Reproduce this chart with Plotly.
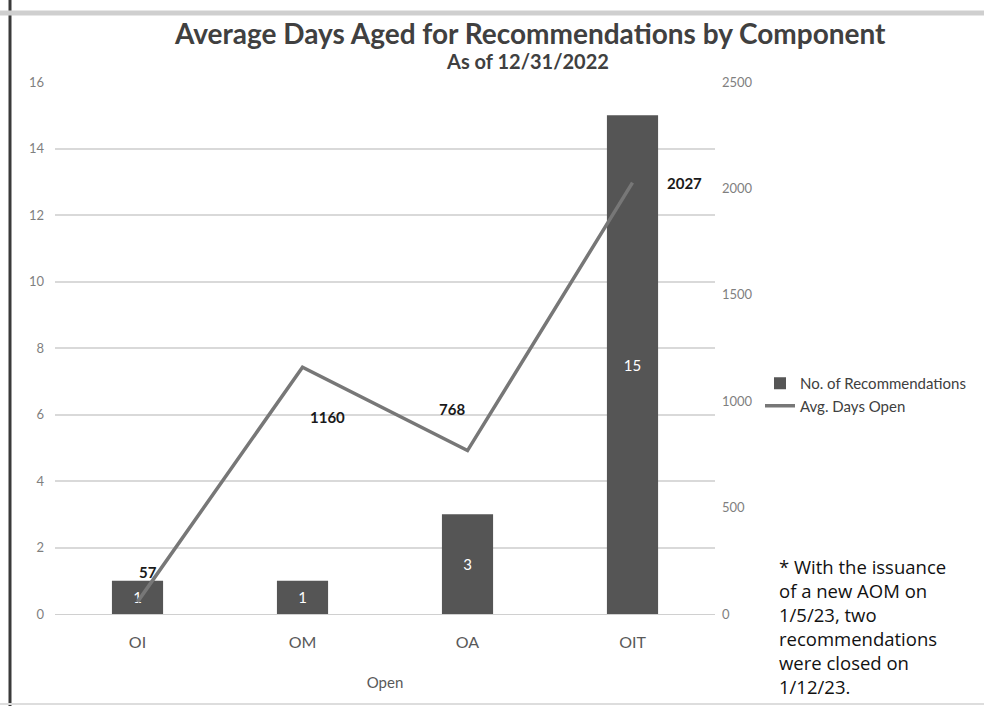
import plotly.graph_objects as go

# Chart data
components = ["OI", "OM", "OA", "OIT"]
num_recommendations = [1, 1, 3, 15]
avg_days_open = [57, 1160, 768, 2027]

footnote_lines = [
    "* With the issuance",
    "of a new AOM on",
    "1/5/23, two",
    "recommendations",
    "were closed on",
    "1/12/23.",
]

# Offsets (px) for the line's value labels
label_dx = [10, 25, -16, 52]
label_dy = [30, -50, 42, 0]

W, H = 984, 706
ML, MR, MT, MB = 55, 269, 82, 92
PW, PH = W - ML - MR, H - MT - MB

FONT = "Lato"
GREY_TXT = "#595959"

def px_x(x):
    return (x - ML) / PW

def px_y(y):
    return (H - MB - y) / PH

fig = go.Figure()

fig.add_trace(go.Bar(
    x=components, y=num_recommendations, name="No. of Recommendations",
    marker=dict(color="#555555", line=dict(width=0)),
    width=0.31,
    text=[str(v) for v in num_recommendations],
    textposition="inside", insidetextanchor="middle",
    textfont=dict(color="white", size=15, family=FONT),
    yaxis="y",
))

fig.add_trace(go.Scatter(
    x=components, y=avg_days_open, name="Avg. Days Open",
    mode="lines", line=dict(color="#777777", width=3.5),
    yaxis="y2",
))

for c, v, dx, dy in zip(components, avg_days_open, label_dx, label_dy):
    fig.add_annotation(
        x=c, y=v, xref="x", yref="y2", text=f"<b>{v}</b>", showarrow=False,
        xshift=dx, yshift=dy, font=dict(size=15, color="#1a1a1a", family=FONT),
    )

# Title and subtitle
fig.add_annotation(x=px_x(530), y=px_y(33), xref="paper", yref="paper",
                   text="<b>Average Days Aged for Recommendations by Component</b>",
                   showarrow=False, xanchor="center", yanchor="middle",
                   font=dict(size=28, color="#404040", family=FONT))
fig.add_annotation(x=px_x(527), y=px_y(61), xref="paper", yref="paper",
                   text="<b>As of 12/31/2022</b>",
                   showarrow=False, xanchor="center", yanchor="middle",
                   font=dict(size=20, color="#404040", family=FONT))

# Footnote beside the chart
fig.add_annotation(x=px_x(777), y=px_y(552), xref="paper", yref="paper",
                   text="<br>".join(footnote_lines),
                   showarrow=False, xanchor="left", yanchor="top", align="left",
                   font=dict(size=18.5, color="#111111", family="Open Sans"))

# Frame lines around the figure
fig.add_shape(type="line", xref="paper", yref="paper",
              x0=px_x(10), x1=px_x(10), y0=px_y(0), y1=px_y(H),
              line=dict(color="#3a3a3a", width=3))
fig.add_shape(type="line", xref="paper", yref="paper",
              x0=px_x(0), x1=px_x(W), y0=px_y(13), y1=px_y(13),
              line=dict(color="#cfcfcf", width=5))
fig.add_shape(type="line", xref="paper", yref="paper",
              x0=px_x(0), x1=px_x(W), y0=px_y(704), y1=px_y(704),
              line=dict(color="#dddddd", width=2))

fig.update_layout(
    width=W, height=H,
    margin=dict(l=ML, r=MR, t=MT, b=MB),
    paper_bgcolor="white", plot_bgcolor="white",
    font=dict(family=FONT, color=GREY_TXT),
    bargap=0.69,
    showlegend=True,
    legend=dict(x=px_x(760), y=px_y(367), xanchor="left", yanchor="top",
                font=dict(size=15, color="#404040", family=FONT),
                itemwidth=30, tracegroupgap=0, bgcolor="rgba(0,0,0,0)"),
    xaxis=dict(
        showgrid=False, showline=True, linecolor="#d0d0d0", linewidth=1,
        tickfont=dict(size=16, color=GREY_TXT), ticklabelstandoff=14,
        title=dict(text="Open", font=dict(size=15, color=GREY_TXT), standoff=27),
    ),
    yaxis=dict(
        range=[0, 16], dtick=2, showgrid=True, gridcolor="#d9d9d9", gridwidth=1.5,
        zeroline=False, showline=False,
        tickfont=dict(size=13, color="#7f7f7f"), ticklabelstandoff=10,
    ),
    yaxis2=dict(
        range=[0, 2500], dtick=500, overlaying="y", side="right",
        showgrid=False, zeroline=False, showline=False,
        tickfont=dict(size=13, color="#7f7f7f"), ticklabelstandoff=6,
    ),
)

fig.write_html("out.html")
